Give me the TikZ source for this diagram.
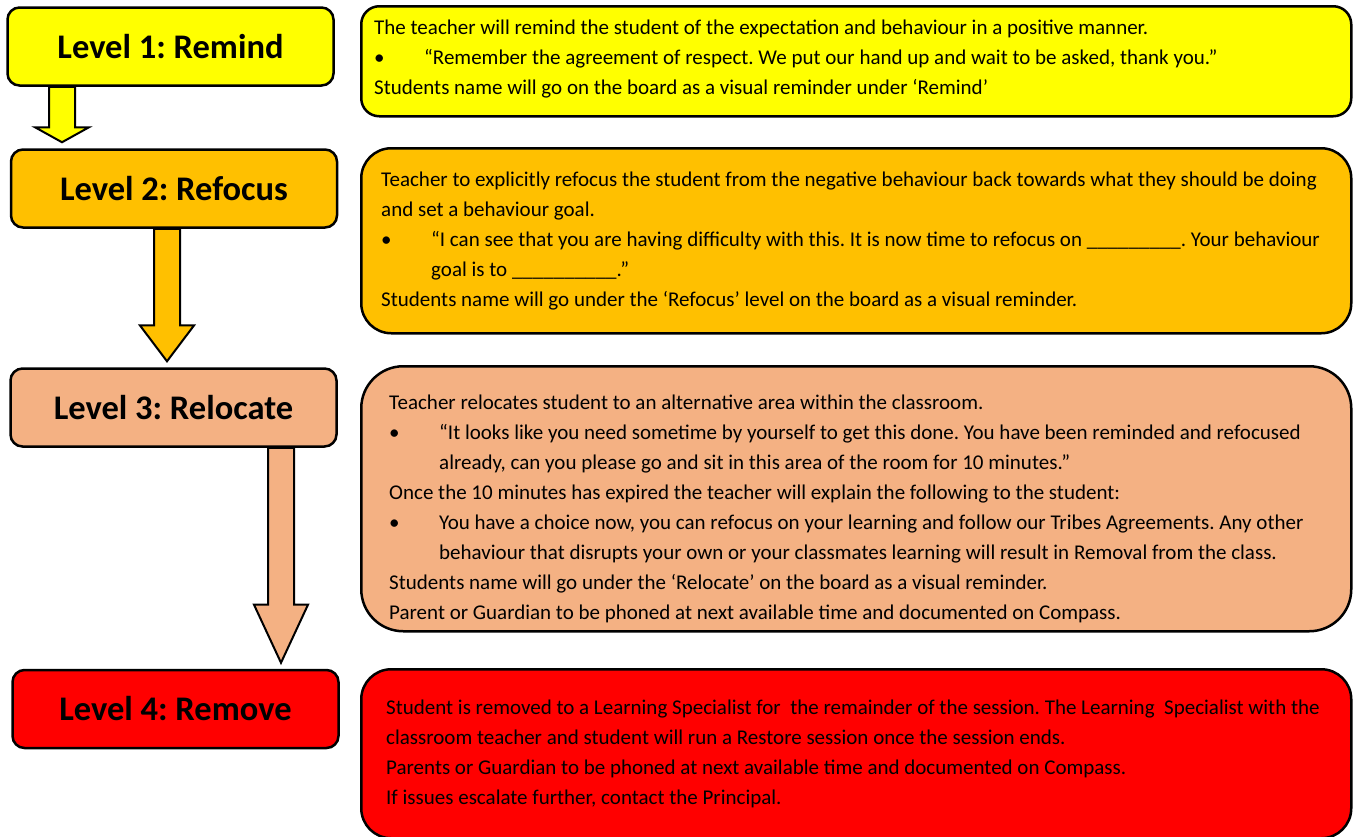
\documentclass[tikz,border=0pt]{standalone}
\usepackage{fontspec}
\setmainfont{Carlito}
\usetikzlibrary{calc}
\definecolor{colorremind}{HTML}{FFFF00}
\definecolor{colorrefocus}{HTML}{FFC000}
\definecolor{colorrelocate}{HTML}{F4B183}
\definecolor{colorremove}{HTML}{FF0000}
\tikzset{
  boxlevel/.style={draw, line width=2.5pt, rounded corners=12pt, minimum width=326pt,
    minimum height=78pt, font=\fontsize{34.5}{40}\selectfont\bfseries},
  boxnote/.style={draw, line width=2.5pt, anchor=north west, minimum width=990pt},
  notetext/.style={anchor=west, inner sep=0pt, align=left, font=\fontsize{21}{30}\selectfont},
  edgelevel/.style={draw, line width=2pt, line join=miter}
}
\frenchspacing
\newcommand\bul{\makebox[50pt][l]{\textbullet}}
\newcommand\ind{\hspace*{50pt}}
% block arrow: from, to, x, colour
\newcommand\lvarrow[4]{%
  \draw[edgelevel, fill=#4] let \p1=(#1.south), \p2=([yshift=6pt]#2.north),
    \p3=($(\p1)!0.73!(\p2)$) in
    ({#3pt-13pt},\y1) -- ({#3pt-13pt},\y3) -- ({#3pt-27pt},\y3) -- (#3pt,\y2)
    -- ({#3pt+27pt},\y3) -- ({#3pt+13pt},\y3) -- ({#3pt+13pt},\y1) -- cycle;}

\begin{document}
\begin{tikzpicture}[x=1pt, y=-1pt]
\clip (0,0) rectangle (1353,836);
% levels
\node[boxlevel, fill=colorremind]   (remind)   at (170.5,46.5)  {Level 1: Remind};
\node[boxlevel, fill=colorrefocus]  (refocus)  at (174,188.5)   {Level 2: Refocus};
\node[boxlevel, fill=colorrelocate] (relocate) at (173.5,407.5) {Level 3: Relocate};
\node[boxlevel, fill=colorremove]   (remove)   at (175.5,709)   {Level 4: Remove};
% notes
\node[boxnote, fill=colorremind, rounded corners=18pt, minimum height=110pt] (remindnote) at (360,5) {};
\node[boxnote, fill=colorrefocus, rounded corners=30pt, minimum height=185pt] (refocusnote) at (360,147) {};
\node[boxnote, fill=colorrelocate, rounded corners=42pt, minimum height=265pt] (relocatenote) at (360,365) {};
\node[boxnote, fill=colorremove, rounded corners=30pt, minimum height=169pt] (removenote) at (360,668) {};

\node[notetext] (remindtext) at ([xshift=14pt,yshift=2pt]remindnote.west) {%
The teacher will remind the student of the expectation and behaviour in a positive manner.\\
\bul“Remember the agreement of respect. We put our hand up and wait to be asked, thank you.”\\
Students name will go on the board as a visual reminder under ‘Remind’};
\node[notetext] (refocustext) at ([xshift=21pt]refocusnote.west) {%
Teacher to explicitly refocus the student from the negative behaviour back towards what they should be doing\\
and set a behaviour goal.\\
\bul“I can see that you are having difficulty with this. It is now time to refocus on \_\_\_\_\_\_\_\_\_. Your behaviour\\
\ind goal is to \_\_\_\_\_\_\_\_\_\_.”\\
Students name will go under the ‘Refocus’ level on the board as a visual reminder.};
\node[notetext] (relocatetext) at ([xshift=29pt,yshift=-10pt]relocatenote.west) {%
Teacher relocates student to an alternative area within the classroom.\\
\bul“It looks like you need sometime by yourself to get this done. You have been reminded and refocused\\
\ind already, can you please go and sit in this area of the room for 10 minutes.”\\
Once the 10 minutes has expired the teacher will explain the following to the student:\\
\bul You have a choice now, you can refocus on your learning and follow our Tribes Agreements. Any other\\
\ind behaviour that disrupts your own or your classmates learning will result in Removal from the class.\\
Students name will go under the ‘Relocate’ on the board as a visual reminder.\\
Parent or Guardian to be phoned at next available time and documented on Compass.};
\node[notetext] (removetext) at ([xshift=26pt]removenote.west) {%
Student is removed to a Learning Specialist for\ \ the remainder of the session. The Learning\ \ Specialist with the\\
classroom teacher and student will run a Restore session once the session ends.\\
Parents or Guardian to be phoned at next available time and documented on Compass.\\
If issues escalate further, contact the Principal.};
% arrows
\lvarrow{remind}{refocus}{62}{colorremind}
\lvarrow{refocus}{relocate}{167}{colorrefocus}
\lvarrow{relocate}{remove}{281}{colorrelocate}
\end{tikzpicture}
\end{document}
